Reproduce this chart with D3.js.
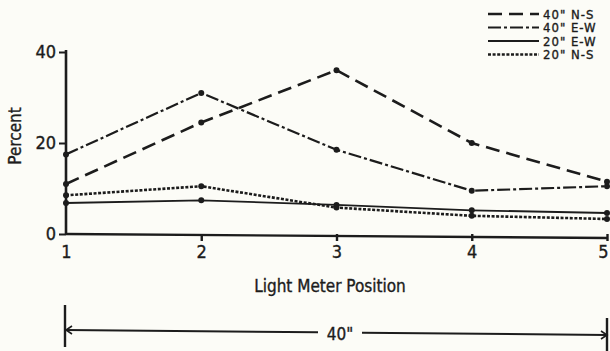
<!DOCTYPE html>
<html>
<head>
<meta charset="utf-8">
<script src="https://cdn.jsdelivr.net/npm/d3@7"></script>
<style>
  html, body { margin: 0; padding: 0; background: #fcfcf7; }
  svg { display: block; }
  text { font-family: "DejaVu Sans Condensed", "Liberation Sans Narrow", sans-serif; fill: #1c1c1c; stroke: #1c1c1c; stroke-width: 0.35px; }
</style>
</head>
<body>
<svg id="chart" width="610" height="351"></svg>
<script>
// Light meter readings at five positions along a 40" span
const positions = [1, 2, 3, 4, 5];
const ns40 = [11, 24.5, 36, 20, 11.5];
const ew40 = [17.5, 31, 18.5, 9.5, 10.5];
const ew20 = [6.8, 7.4, 6.4, 5.2, 4.6];
const ns20 = [8.5, 10.5, 5.8, 4.0, 3.3];
const yTicks = [0, 20, 40];
const seriesNames = ['40" N-S', '40" E-W', '20" E-W', '20" N-S'];

const ink = "#1c1c1c";
const svg = d3.select("#chart");

const x = d3.scaleLinear().domain([1, 5]).range([66, 607]);
const y = d3.scaleLinear().domain([0, 40]).range([234, 52]);

const styles = [
  { dash: "14,7", width: 2.6 },
  { dash: "13,3,3,3", width: 2.2 },
  { dash: null, width: 1.9 },
  { dash: "3,1.6", width: 2.6 }
];
const series = [ns40, ew40, ew20, ns20].map((vals, i) => ({
  name: seriesNames[i],
  values: vals.map((v, j) => ({ p: positions[j], v })),
  style: styles[i]
}));

// Y axis
const yAxis = d3.axisLeft(y).tickValues(yTicks).tickSize(7).tickPadding(3).tickFormat(d3.format("d"));
const gy = svg.append("g").attr("transform", "translate(66,0)").call(yAxis);
gy.select(".domain").remove();
gy.selectAll(".tick line").attr("stroke", ink).attr("stroke-width", 2);
gy.selectAll(".tick text").attr("font-size", 18).attr("fill", ink).style("font-family", null);
svg.append("line").attr("x1", 66).attr("x2", 66).attr("y1", y(40) - 2).attr("y2", y(0) + 1)
  .attr("stroke", ink).attr("stroke-width", 2.6);

// X axis
const xAxis = d3.axisBottom(x).tickValues(positions).tickSize(7).tickPadding(4).tickFormat(d3.format("d"));
const gx = svg.append("g").attr("transform", `translate(0,${y(0)})`).call(xAxis);
gx.select(".domain").remove();
gx.selectAll(".tick line").attr("stroke", ink).attr("stroke-width", 2.4)
  .filter(d => d === 1).remove();
gx.selectAll(".tick text").attr("font-size", 18).attr("fill", ink).style("font-family", null)
  .attr("dx", d => d === 5 ? -4 : 0);
svg.append("line").attr("x1", x(1)).attr("x2", x(5) + 1).attr("y1", y(0)).attr("y2", y(0) + 4)
  .attr("stroke", ink).attr("stroke-width", 2.4);

// Axis titles
svg.append("text").attr("transform", "translate(21,136) rotate(-90)")
  .attr("text-anchor", "middle").attr("font-size", 17).text("Percent");
svg.append("text").attr("x", 330).attr("y", 292)
  .attr("text-anchor", "middle").attr("font-size", 17).text("Light Meter Position");

// Series lines and markers
const line = d3.line().x(d => x(d.p)).y(d => y(d.v));
series.forEach(s => {
  svg.append("path").datum(s.values).attr("d", line)
    .attr("fill", "none").attr("stroke", ink)
    .attr("stroke-width", s.style.width)
    .attr("stroke-dasharray", s.style.dash);
  svg.selectAll(null).data(s.values).enter().append("circle")
    .attr("cx", d => x(d.p)).attr("cy", d => y(d.v)).attr("r", 3).attr("fill", ink);
});

// Legend
const lg = svg.append("g");
series.forEach((s, i) => {
  const yy = 14 + i * 13.5;
  lg.append("line").attr("x1", 488).attr("x2", 539).attr("y1", yy).attr("y2", yy)
    .attr("stroke", ink).attr("stroke-width", s.style.width)
    .attr("stroke-dasharray", s.style.dash);
  lg.append("text").attr("x", 543).attr("y", yy + 4.5).attr("font-size", 13)
    .attr("letter-spacing", 1).text(s.name);
});

// Dimension line spanning the meter positions
const dimY1 = 330, dimY2 = 335;
const dimAt = px => dimY1 + (px - x(1)) / (x(5) - x(1)) * (dimY2 - dimY1);
const dim = svg.append("g").attr("stroke", ink).attr("fill", "none");
dim.append("line").attr("x1", x(1) - 1).attr("x2", x(1) - 1).attr("y1", 305).attr("y2", 347).attr("stroke-width", 2.4);
dim.append("line").attr("x1", x(5)).attr("x2", x(5)).attr("y1", 318).attr("y2", 351).attr("stroke-width", 2.4);
dim.append("line").attr("x1", x(1)).attr("x2", 318).attr("y1", dimY1).attr("y2", dimAt(318)).attr("stroke-width", 2);
dim.append("line").attr("x1", 362).attr("x2", x(5)).attr("y1", dimAt(362)).attr("y2", dimY2).attr("stroke-width", 2);
dim.append("path").attr("d", `M${x(1) + 6},${dimY1 - 4} L${x(1)},${dimY1} L${x(1) + 6},${dimY1 + 4}`).attr("stroke-width", 1.6);
dim.append("path").attr("d", `M${x(5) - 6},${dimY2 - 4} L${x(5)},${dimY2} L${x(5) - 6},${dimY2 + 4}`).attr("stroke-width", 1.6);
svg.append("text").attr("x", 340).attr("y", 340).attr("text-anchor", "middle").attr("font-size", 17).text('40"');
</script>
</body>
</html>
